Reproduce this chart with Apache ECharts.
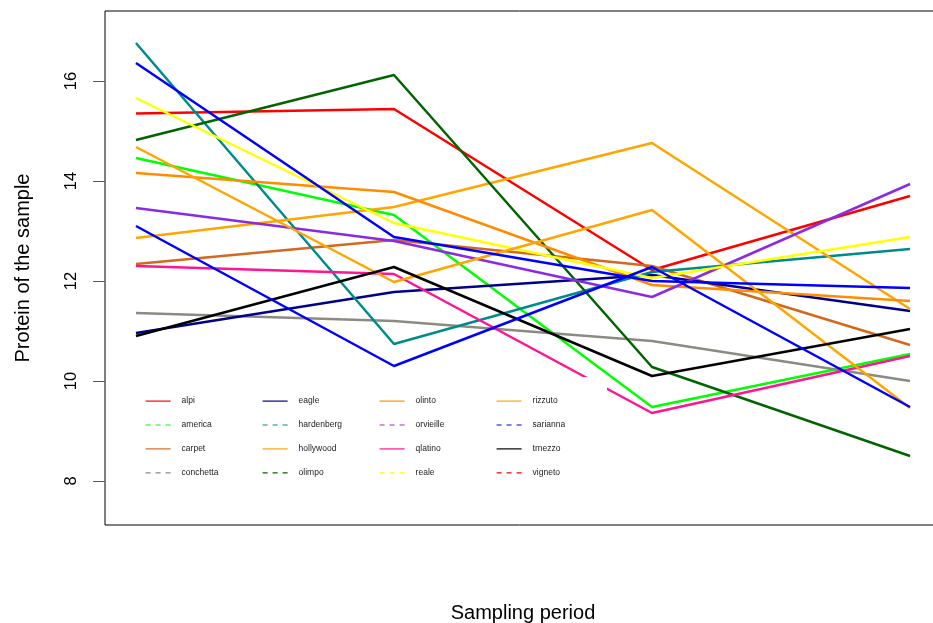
<!DOCTYPE html>
<html>
<head>
<meta charset="utf-8">
<script src="https://cdn.jsdelivr.net/npm/echarts@6/dist/echarts.min.js"></script>
<style>html,body{margin:0;padding:0;background:#fff;}#c{width:933px;height:623px;}</style>
</head>
<body>
<div id="c"></div>
<script>
const periods = [1, 2, 3, 4];
const yTicks = [8, 10, 12, 14, 16];
const names = ['alpi','america','carpet','conchetta','eagle','hardenberg','hollywood','olimpo','olinto','orvieille','qlatino','reale','rizzuto','sarianna','trnezzo','vigneto'];
const alpi       = [15.35, 15.44, 12.22, 13.70];
const america    = [14.46, 13.32, 9.48, 10.54];
const carpet     = [12.34, 12.82, 12.30, 10.72];
const conchetta  = [11.36, 11.20, 10.80, 10.00];
const eagle      = [10.96, 11.78, 12.12, 11.40];
const hardenberg = [16.76, 10.74, 12.18, 12.64];
const hollywood  = [12.86, 13.48, 14.76, 11.44];
const olimpo     = [14.82, 16.12, 10.28, 8.50];
const olinto     = [14.16, 13.78, 11.92, 11.60];
const orvieille  = [13.46, 12.80, 11.68, 13.94];
const qlatino    = [12.30, 12.14, 9.36, 10.50];
const reale      = [15.66, 13.16, 12.06, 12.88];
const rizzuto    = [14.68, 11.98, 13.42, 9.46];
const sarianna   = [16.36, 12.88, 12.00, 11.86];
const trnezzo    = [10.90, 12.28, 10.10, 11.04];
const vigneto    = [13.10, 10.30, 12.28, 9.48];
const values = [alpi, america, carpet, conchetta, eagle, hardenberg, hollywood, olimpo, olinto, orvieille, qlatino, reale, rizzuto, sarianna, trnezzo, vigneto];

const lineColors = ['#FF0000','#00FF00','#D2691E','#8B8B83','#00008B','#008B8B','#FFA500','#006400','#FF8C00','#8A2BE2','#FF1493','#FFFF00','#FFA500','#0000FF','#000000','#0000FF'];
const legendColors = ['#FF0000','#00FF00','#D2691E','#8B8B83','#00008B','#008B8B','#FFA500','#006400','#FF8C00','#A020F0','#FF1493','#FFFF00','#FFA500','#0000FF','#000000','#FF0000'];

const font = "'Liberation Sans', Arial, sans-serif";

const series = names.map((n, i) => ({
  name: n,
  type: 'line',
  data: periods.map((p, j) => [p, values[i][j]]),
  symbol: 'none',
  showSymbol: false,
  lineStyle: { color: lineColors[i], width: 2.5 },
  itemStyle: { color: lineColors[i] },
  z: 2
}));

// four legend columns, filled column-wise like the original
const legendCols = [0, 1, 2, 3].map(c => ({
  orient: 'vertical',
  left: 145 + c * 117, top: 395.5,
  padding: 0,
  itemWidth: 25, itemHeight: 14, itemGap: 12.7,
  selectedMode: false,
  itemStyle: { opacity: 0, borderWidth: 0 },
  textStyle: { fontSize: 8.5, color: '#222', padding: [0, 0, 0, 6], fontFamily: font },
  data: [0, 1, 2, 3].map(r => {
    const idx = c * 4 + r;
    return {
      name: names[idx],
      itemStyle: { opacity: 0, borderWidth: 0 },
      lineStyle: { color: legendColors[idx], width: 1.2, type: (idx % 2 === 1) ? [5, 5] : 'solid' }
    };
  }),
  z: 5
}));

const chart = echarts.init(document.getElementById('c'), null, { renderer: 'canvas' });
chart.setOption({
  animation: false,
  backgroundColor: '#fff',
  textStyle: { fontFamily: font },
  grid: { left: 105, top: 11, width: 836, height: 514, containLabel: false, outerBoundsMode: 'none', show: true, borderColor: '#000', borderWidth: 1, backgroundColor: 'transparent' },
  graphic: [{
    type: 'rect', left: 130, top: 377, z: 3,
    shape: { width: 477, height: 118 },
    style: { fill: '#fff' }
  }],
  xAxis: {
    type: 'value', min: 0.88, max: 4.12,
    name: 'Sampling period', nameLocation: 'middle', nameGap: 78,
    nameTextStyle: { fontSize: 20, color: '#000', fontFamily: font },
    axisLine: { show: false }, axisTick: { show: false }, axisLabel: { show: false }, splitLine: { show: false }
  },
  yAxis: {
    type: 'value', min: 7.12, max: 17.4,
    name: 'Protein of the sample', nameLocation: 'middle', nameGap: 72, nameRotate: 90,
    nameTextStyle: { fontSize: 20, color: '#000', fontFamily: font },
    axisLine: { show: false },
    axisTick: { show: true, inside: false, length: 12, customValues: yTicks, lineStyle: { color: '#555', width: 1 } },
    axisLabel: { show: true, customValues: yTicks, rotate: 90, margin: 25, fontSize: 16.5, color: '#000', fontFamily: font },
    splitLine: { show: false }
  },
  legend: legendCols,
  series: series
});
</script>
</body>
</html>
